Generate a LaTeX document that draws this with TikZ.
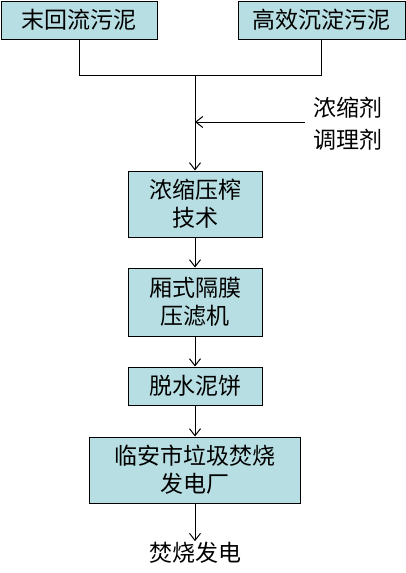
\documentclass[tikz,border=0pt]{standalone}
\usepackage{fontspec}
\usepackage{tikz}
\usetikzlibrary{arrows.meta}
\newfontfamily\cjk{Noto Sans CJK SC}
\definecolor{boxfill}{RGB}{183,222,226}
\tikzset{
  stepbox/.style={draw,line width=1pt,fill=boxfill,rectangle,inner sep=0pt,align=center,font=\cjk\fontsize{23}{28}\selectfont},
  plain/.style={inner sep=1pt,align=center,font=\cjk\fontsize{23}{32}\selectfont},
  flow/.style={line width=1pt,-{Straight Barb[length=7pt,width=11pt]}}
}
\begin{document}
\begin{tikzpicture}[x=1pt,y=-1pt]
\useasboundingbox (0,0) rectangle (406,573);
\node[stepbox,minimum width=156,minimum height=38] (s1) at (79,20) {末回流污泥};
\node[stepbox,minimum width=167,minimum height=38] (s2) at (321.5,20) {高效沉淀污泥};
\node[stepbox,minimum width=134,minimum height=66] (s3) at (195,204) {浓缩压榨\\技术};
\node[stepbox,minimum width=134,minimum height=68] (s4) at (195,302) {厢式隔膜\\压滤机};
\node[stepbox,minimum width=134,minimum height=38] (s5) at (195,386) {脱水泥饼};
\node[stepbox,minimum width=211,minimum height=66] (s6) at (195,470) {临安市垃圾焚烧\\发电厂};
\node[plain] (agent) at (348,124) {浓缩剂\\调理剂};
\node[plain] (out) at (195,553) {焚烧发电};
\coordinate (join) at (195,75);
\coordinate (feed) at (305,122);
\draw[line width=1pt] (s1.south) |- (join);
\draw[line width=1pt] (s2.south) |- (join);
\draw[flow] (join) -- (s3.north);
\draw[flow] (feed) -- (feed -| join);
\draw[flow] (s3) -- (s4);
\draw[flow] (s4) -- (s5);
\draw[flow] (s5) -- (s6);
\draw[flow] (s6) -- (out);
\end{tikzpicture}
\end{document}
